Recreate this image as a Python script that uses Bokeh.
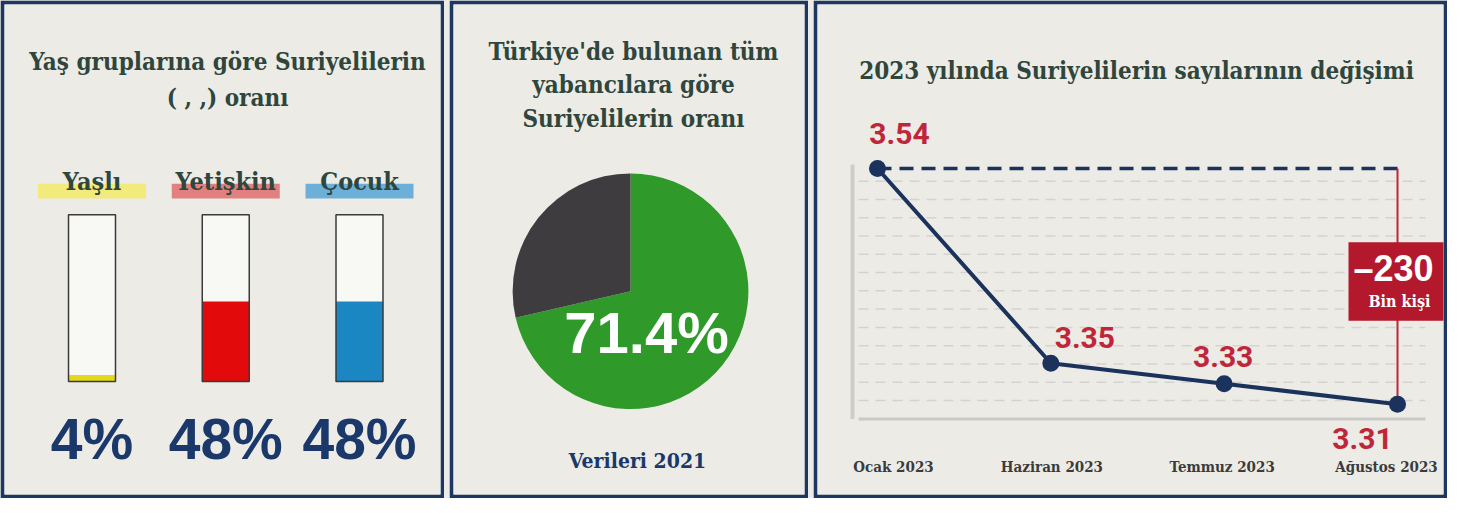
import numpy as np
from bokeh.plotting import figure
from bokeh.layouts import row
from bokeh.models import Range1d, ColumnDataSource
from bokeh.core.properties import value
from bokeh.embed import file_html
from bokeh.resources import INLINE

# ---------------- data ----------------
age_groups = ["Yaşlı", "Yetişkin", "Çocuk"]
age_shares = [4, 48, 48]

pie_groups = ["Suriyeliler", "Diğer yabancılar"]
pie_shares = [71.4, 28.6]

months = ["Ocak 2023", "Haziran 2023", "Temmuz 2023", "Ağustos 2023"]
syrians_mn = [3.54, 3.35, 3.33, 3.31]
change_text = "–230"
change_unit = "Bin kişi"

title1 = ["Yaş gruplarına göre Suriyelilerin", "( , ,) oranı"]
title2 = ["Türkiye'de bulunan tüm", "yabancılara göre", "Suriyelilerin oranı"]
title3 = "2023 yılında Suriyelilerin sayılarının değişimi"
note2 = "Verileri 2021"

# ---------------- style ----------------
BG = "#ecebe6"
FRAME = "#1d3763"
TITLE_C = "#2f463c"
NUM_NAVY = "#1b386b"
LINE_NAVY = "#1b335c"
RED = "#c0263a"
BOX_RED = "#b3182d"
age_fill = ["#e4d81c", "#e20a0a", "#1b87c2"]
age_mark = ["#f2ea7a", "#e27f7f", "#6cafd8"]
pie_colors = ["#2f9a2a", "#3e3c3f"]

SERIF = value("DejaVu Serif Condensed")
SANS = value("Liberation Sans")

H = 498
B = 4
SY = H / 507.0


def Y(v):
    return (v - 1) * SY


def lin_range(v0, p0, v1, p1, lo, hi):
    k = (v1 - v0) / (p1 - p0)
    return Range1d(start=v0 + (lo - p0) * k, end=v0 + (hi - p0) * k)


def panel(w):
    p = figure(width=w, height=H, x_range=Range1d(B, w - B), y_range=Range1d(H - B, B),
               x_axis_type=None, y_axis_type=None, toolbar_location=None,
               output_backend="svg", min_border=B)
    p.min_border_left = B
    p.min_border_right = B
    p.min_border_top = B
    p.min_border_bottom = B
    p.background_fill_color = BG
    p.border_fill_color = FRAME
    p.outline_line_color = None
    return p


def txt(p, x, y, s, size, color, font=SERIF, style="bold", **kw):
    p.text(x=x, y=y, text=s, text_font=font, text_font_size=f"{size}px",
           text_font_style=style, text_color=color, text_align="center",
           text_baseline="middle", **kw)


# ---------------- panel 1: age groups ----------------
W1 = 444
p1 = panel(W1)
idx = list(range(len(age_groups)))
p1.extra_x_ranges = {"cat": lin_range(0, 91.5, len(idx) - 1, 359, B, W1 - B)}
p1.extra_y_ranges = {"pct": lin_range(0, Y(389), 100, Y(219), H - B, B)}

for i, line in enumerate(title1):
    txt(p1, [227], [Y(63 + 37 * i)], [line], 24, TITLE_C)

p1.rect(x=idx, y=[Y(195)] * len(idx), width=108, width_units="screen", height=15 * SY,
        fill_color=age_mark, line_color=None, x_range_name="cat")
txt(p1, idx, [Y(185)] * len(idx), age_groups, 25, TITLE_C, x_range_name="cat")

bw = 47 / 133.75
p1.vbar(x=idx, width=bw, bottom=0, top=100, fill_color="#f8f8f5", line_color=None,
        x_range_name="cat", y_range_name="pct")
p1.vbar(x=idx, width=bw, bottom=0, top=age_shares, fill_color=age_fill, line_color=None,
        x_range_name="cat", y_range_name="pct")
p1.vbar(x=idx, width=bw, bottom=0, top=100, fill_color=None, line_color="#3a3a3a",
        line_width=1.5, x_range_name="cat", y_range_name="pct")
txt(p1, idx, [Y(447)] * len(idx), [f"{v}%" for v in age_shares], 57, NUM_NAVY,
    font=SANS, x_range_name="cat")

# ---------------- panel 2: pie ----------------
W2 = 359
p2 = panel(W2)
cy = Y(297)
p2.extra_x_ranges = {"pie": lin_range(0, 181, 1, 182, B, W2 - B)}
p2.extra_y_ranges = {"pie": lin_range(0, cy, 1, cy - 1, H - B, B)}

for i, line in enumerate(title2):
    txt(p2, [184], [Y(53 + 34 * i)], [line], 24, TITLE_C)

tot = float(sum(pie_shares))
cum = np.concatenate([[0.0], np.cumsum(pie_shares)]) / tot
pie_src = ColumnDataSource(dict(
    start=np.pi / 2 - 2 * np.pi * cum[1:],
    end=np.pi / 2 - 2 * np.pi * cum[:-1],
    color=pie_colors,
    name=pie_groups,
))
p2.wedge(x=0, y=0, radius=120 * SY, start_angle="start", end_angle="end",
         fill_color="color", line_color=None, source=pie_src,
         x_range_name="pie", y_range_name="pie")
txt(p2, [197], [Y(339)], [f"{pie_shares[0]}%"], 58, "#ffffff", font=SANS)
txt(p2, [188], [Y(469)], [note2], 21, NUM_NAVY)

# ---------------- panel 3: line ----------------
W3 = 634
p3 = panel(W3)
ix = list(range(len(months)))
p3.extra_x_ranges = {"ix": lin_range(0, 64, len(ix) - 1, 584, B, W3 - B)}
p3.extra_y_ranges = {"val": lin_range(max(syrians_mn), Y(172), min(syrians_mn), Y(412), H - B, B)}

txt(p3, [323], [Y(72)], [title3], 24, TITLE_C)

grid_y = [Y(v) for v in np.arange(185, 411, 18.6)]
p3.segment(x0=45, x1=612, y0=grid_y, y1=grid_y, line_color="#d3d3d1", line_width=1.5,
           line_dash="10 7")
p3.segment(x0=[45], x1=[612], y0=[Y(427)], y1=[Y(427)], line_color="#c9c9c7", line_width=3)
p3.segment(x0=[39], x1=[39], y0=[Y(168)], y1=[Y(427)], line_color="#cdcdcb", line_width=4)

p3.line(x=[ix[0], ix[-1]], y=[syrians_mn[0]] * 2, line_color=LINE_NAVY, line_width=3.5,
        line_dash="14 8", x_range_name="ix", y_range_name="val")
p3.line(x=[ix[-1]] * 2, y=[syrians_mn[0], syrians_mn[-1]], line_color=RED, line_width=2,
        x_range_name="ix", y_range_name="val")
p3.rect(x=[ix[-1]], y=[Y(287)], width=98, width_units="screen", height=80 * SY,
        fill_color=BOX_RED, line_color=None, x_range_name="ix")
txt(p3, [ix[-1]], [Y(274)], [change_text], 36, "#ffffff", font=SANS, x_offset=-4,
    x_range_name="ix")
txt(p3, [ix[-1]], [Y(307)], [change_unit], 16, "#ffffff", x_offset=2, x_range_name="ix")

p3.line(x=ix, y=syrians_mn, line_color=LINE_NAVY, line_width=4,
        x_range_name="ix", y_range_name="val")
p3.scatter(x=ix, y=syrians_mn, size=17, fill_color=LINE_NAVY, line_color=None,
           x_range_name="ix", y_range_name="val")

lab_dx = [22, 34, -1, -35]
lab_dy = [-35, -26, -27, 34]
val_src = ColumnDataSource(dict(x=ix, y=syrians_mn, t=[f"{v:.2f}" for v in syrians_mn],
                                dx=lab_dx, dy=lab_dy))
p3.text(x="x", y="y", text="t", x_offset="dx", y_offset="dy", source=val_src,
        text_font=value("Roboto"), text_font_size="30px", text_font_style="bold",
        text_color=RED, text_align="center", text_baseline="middle",
        x_range_name="ix", y_range_name="val")

mon_dx = [16, 1, -2, -11]
mon_src = ColumnDataSource(dict(x=ix, y=[Y(476)] * len(ix), t=months, dx=mon_dx))
p3.text(x="x", y="y", text="t", x_offset="dx", source=mon_src, text_font=SERIF,
        text_font_size="15px", text_font_style="bold", text_color="#3b3b3b",
        text_align="center", text_baseline="middle", x_range_name="ix")

layout = row(p1, p2, p3, spacing=5, styles={"background-color": BG})
open("out.html", "w").write(file_html(layout, INLINE))
